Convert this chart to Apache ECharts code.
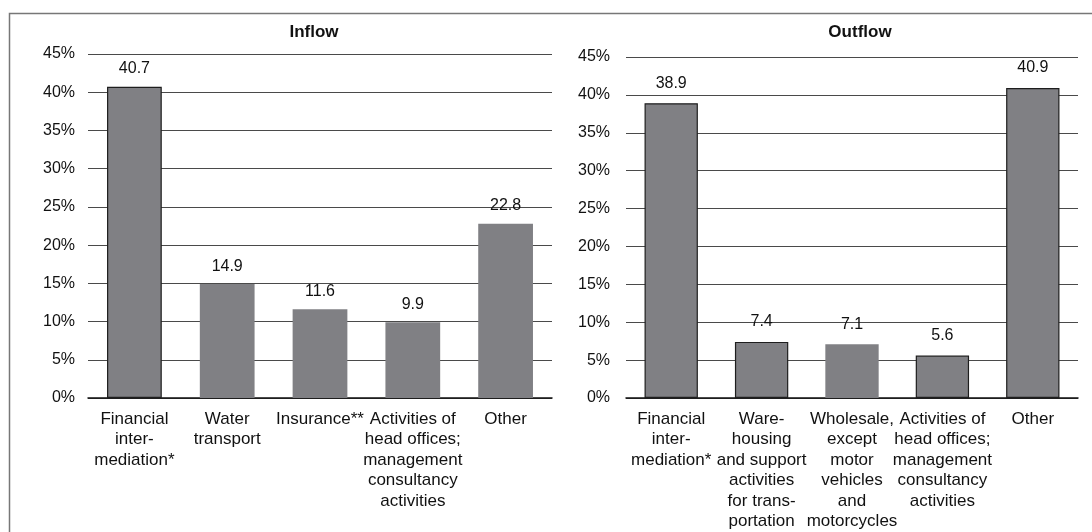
<!DOCTYPE html>
<html>
<head>
<meta charset="utf-8">
<title>Inflow / Outflow</title>
<script src="https://cdn.jsdelivr.net/npm/echarts@6/dist/echarts.min.js"></script>
<style>
    html,body{margin:0;padding:0;background:#fff;}
    #main{width:1092px;height:532px;}
</style>
</head>
<body>
<div id="main"></div>
<script>
// categories and values
var inflowCategories = [
    "Financial\ninter-\nmediation*",
    "Water\ntransport",
    "Insurance**",
    "Activities of\nhead offices;\nmanagement\nconsultancy\nactivities",
    "Other"
];
var inflowValues = [40.7, 14.9, 11.6, 9.9, 22.8];
var inflowOutlined = [true, false, false, false, false];

var outflowCategories = [
    "Financial\ninter-\nmediation*",
    "Ware-\nhousing\nand support\nactivities\nfor trans-\nportation",
    "Wholesale,\nexcept\nmotor\nvehicles\nand\nmotorcycles",
    "Activities of\nhead offices;\nmanagement\nconsultancy\nactivities",
    "Other"
];
var outflowValues = [38.9, 7.4, 7.1, 5.6, 40.9];
var outflowOutlined = [true, true, false, true, true];

var titles = ["Inflow", "Outflow"];
var yMin = 0, yMax = 45, yStep = 5;

var font = "'Liberation Sans', Arial, Helvetica, sans-serif";
var barColor = "#808084";

function barData(values, outlined) {
    var out = [];
    for (var i = 0; i < values.length; i++) {
        out.push({
            value: values[i],
            itemStyle: outlined[i] ? {borderColor: "#1e1e1e", borderWidth: 1.2} : {borderWidth: 0}
        });
    }
    return out;
}

function yAxisFor(idx) {
    return {
        type: 'value', gridIndex: idx,
        min: yMin, max: yMax, interval: yStep,
        axisLine: {show: false}, axisTick: {show: false},
        axisLabel: {formatter: '{value}%', color: '#111', fontSize: 16, fontFamily: font, margin: idx == 0 ? 13 : 16},
        splitLine: {lineStyle: {color: '#4a4a4a', width: 1.2}}
    };
}

function xAxisFor(idx, cats) {
    return {
        type: 'category', gridIndex: idx, data: cats,
        axisLine: {lineStyle: {color: '#111', width: 1.5}},
        axisTick: {show: false},
        axisLabel: {interval: 0, color: '#111', fontSize: 17, fontFamily: font, lineHeight: 20.5, margin: 11}
    };
}

function seriesFor(idx, values, outlined, gap) {
    return {
        type: 'bar', xAxisIndex: idx, yAxisIndex: idx,
        barWidth: '59%',
        itemStyle: {color: barColor},
        label: {
            show: true, position: 'top', distance: gap,
            color: '#111', fontSize: 16, fontFamily: font,
            formatter: function (p) { return p.value.toFixed(1); }
        },
        data: barData(values, outlined)
    };
}

var chart = echarts.init(document.getElementById('main'), null, {renderer: 'canvas'});
var option = {
    animation: false,
    backgroundColor: '#fff',
    title: [
        {text: titles[0], left: 309, top: 19, textAlign: 'center',
            textStyle: {fontSize: 17, fontWeight: 'bold', color: '#111', fontFamily: font}},
        {text: titles[1], left: 855, top: 19, textAlign: 'center',
            textStyle: {fontSize: 17, fontWeight: 'bold', color: '#111', fontFamily: font}}
    ],
    // outer frame, its right and bottom edges fall outside the picture
    graphic: [{
        type: 'rect', left: 7, top: 11, z: -1,
        shape: {width: 1100, height: 600},
        style: {fill: 'none', stroke: '#777', lineWidth: 1.5}
    }],
    grid: [
        {left: 88, right: 540, top: 54, bottom: 134, outerBoundsMode: 'none'},
        {left: 626, right: 14, top: 57, bottom: 134, outerBoundsMode: 'none'}
    ],
    xAxis: [xAxisFor(0, inflowCategories), xAxisFor(1, outflowCategories)],
    yAxis: [yAxisFor(0), yAxisFor(1)],
    series: [
        seriesFor(0, inflowValues, inflowOutlined, 10),
        seriesFor(1, outflowValues, outflowOutlined, 12)
    ]
};
chart.setOption(option);
</script>
</body>
</html>
